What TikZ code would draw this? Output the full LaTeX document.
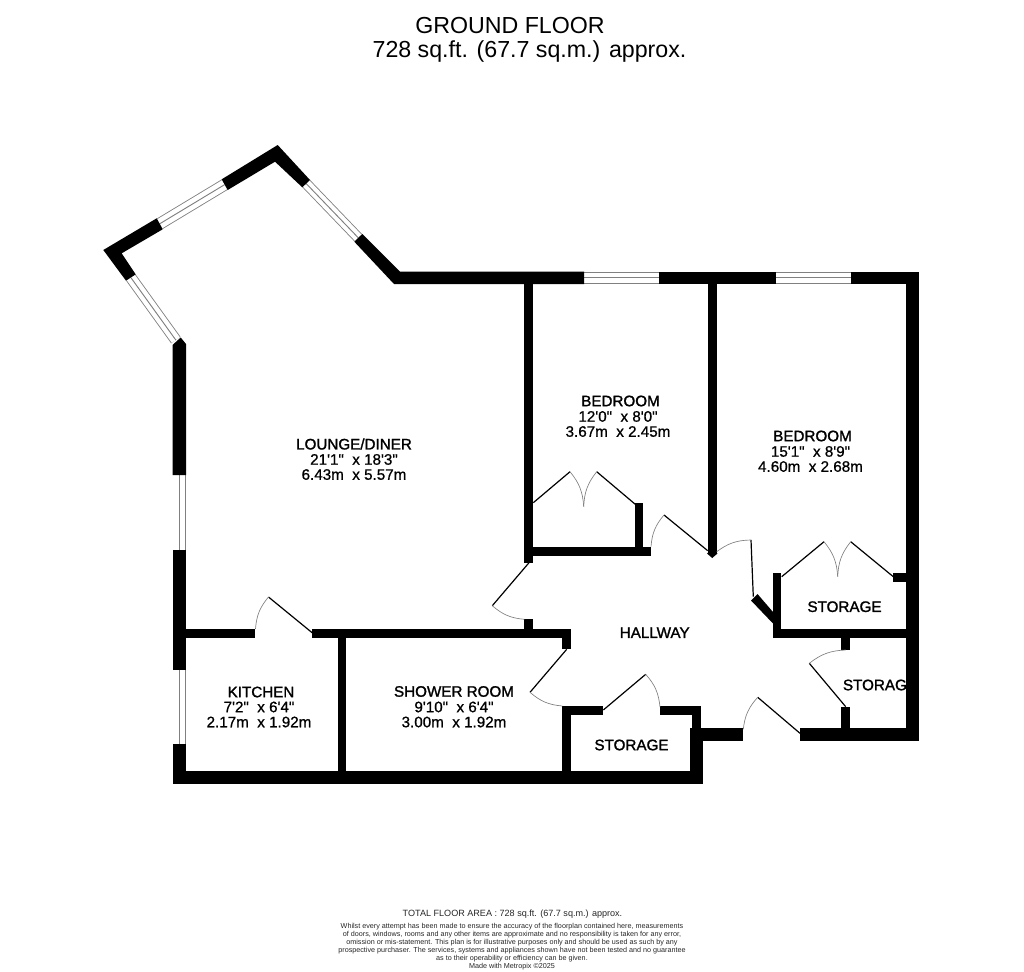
\documentclass[tikz,border=0pt]{standalone}
\usepackage{fontspec}
\setmainfont{Liberation Sans}
\newfontfamily\namefont[FakeBold=1.5]{Liberation Sans}
\newfontfamily\sizefont[FakeBold=0.8]{Liberation Sans}
\tikzset{
    wall/.style={fill=black, draw=none},
    leaf/.style={draw=black, line width=0.9pt},
    swing/.style={draw=black!50, line width=0.5pt},
    glass/.style={draw=black!50, line width=#1, postaction={draw=white, line width=#1-1.3pt}, postaction={draw=black!50, line width=0.7pt}},
    room/.style={inner sep=0pt, align=center, font=\sizefont\fontsize{11.4}{11.3}\selectfont},
    roomname/.style={inner sep=0pt, font=\namefont\fontsize{11.4}{11.3}\selectfont}
}
\begin{document}
\begin{tikzpicture}[x=0.75pt, y=-0.75pt]
    \useasboundingbox (0,0) rectangle (1024,971);
    % windows
    \draw[glass=9pt] (159.7,223.8) -- (224.7,184.6);
    \draw[glass=8pt] (306.2,183.6) -- (358.3,237.8);
    \draw[glass=8.6pt] (130.8,277.5) -- (175.8,340);
    \draw[glass=10pt] (179.2,475) -- (179.2,550);
    \draw[glass=10pt] (179.2,670) -- (179.2,744);
    \draw[glass=9.2pt] (584,277.8) -- (659,277.8);
    \draw[glass=9.2pt] (776,277.8) -- (851,277.8);
    % outer walls
    \fill[wall] (103.3,250) -- (156.7,218.3) -- (162.7,229.3) -- (121.7,253.3) -- (135.7,274.3) -- (126,280.7) -- cycle;
    \fill[wall] (221.7,179.3) -- (277.7,145) -- (310,180) -- (302.3,187.3) -- (275,161.7) -- (227.7,190) -- cycle;
    \fill[wall] (362.3,234) -- (400,271.7) -- (584,271.7) -- (584,284) -- (394,284) -- (354.3,241.7) -- cycle;
    \fill[wall] (172.5,345) -- (180.7,337.5) -- (186,344) -- (186,475) -- (172.5,475) -- cycle;
    \fill[wall] (172.5,550) rectangle (186,670);
    \fill[wall] (172.5,744) rectangle (186,784);
    \fill[wall] (172.5,771) rectangle (703.3,784);
    \fill[wall] (659,271.7) rectangle (776,284);
    \fill[wall] (851,271.7) rectangle (919,284);
    \fill[wall] (906,271.7) rectangle (919,741);
    \fill[wall] (800,728.3) rectangle (919,741);
    \fill[wall] (690,728.3) rectangle (743.3,741);
    \fill[wall] (690,728.3) rectangle (703.3,784);
    % inner walls
    \fill[wall] (186,629.3) rectangle (255,638.3);
    \fill[wall] (312.3,629.3) rectangle (570.7,638.3);
    \fill[wall] (337.7,638) rectangle (346,771);
    \fill[wall] (524.3,619.3) rectangle (533.3,629.3);
    \fill[wall] (561.7,638) rectangle (570.7,649.3);
    \fill[wall] (524.3,284) rectangle (533.3,562.7);
    \fill[wall] (533,547.3) rectangle (651,556);
    \fill[wall] (634.7,502.7) rectangle (642.7,547.3);
    \fill[wall] (707.7,284) rectangle (716.7,553);
    \fill[wall] (712.2,549) -- (717.5,553.5) -- (712.2,558) -- (707,553.5) -- cycle;
    \fill[wall] (772.7,572.7) rectangle (781.3,638.3);
    \fill[wall] (772.7,629.3) rectangle (906,638.3);
    \fill[wall] (757.5,594) -- (751,600.5) -- (773,623.5) -- (773,612) -- cycle;
    \fill[wall] (893.3,572.7) rectangle (906,582);
    \fill[wall] (841.3,638) rectangle (850.3,650);
    \fill[wall] (841.3,706.7) rectangle (850.3,728.3);
    \fill[wall] (562.3,706) rectangle (571,771);
    \fill[wall] (562.3,706) rectangle (603.3,715);
    \fill[wall] (660,706) rectangle (701,715);
    \fill[wall] (692.3,706) rectangle (701,728.3);
    % doors
    \draw[leaf] (312.5,633) -- (268.5,597);
    \draw[swing] (268.5,597) to[bend right=18] (255.5,629);
    \draw[leaf] (533.3,502.7) -- (570,471.7);
    \draw[swing] (583.7,506.7) to[bend right=18] (570,471.7);
    \draw[leaf] (637.3,506) -- (596.7,471.7);
    \draw[swing] (596.7,471.7) to[bend right=18] (583.7,506.7);
    \draw[leaf] (707.7,550.7) -- (664,515);
    \draw[swing] (664,515) to[bend right=18] (651,546.7);
    \draw[leaf] (753.3,596.7) -- (751,540);
    \draw[swing] (751,540) to[bend right=18] (716.7,551.7);
    \draw[leaf] (529,562.7) -- (492.3,605.7);
    \draw[swing] (492.3,605.7) to[bend right=18] (524.3,619.3);
    \draw[leaf] (566.7,649.3) -- (530,692.3);
    \draw[swing] (530,692.3) to[bend right=18] (562.3,706);
    \draw[leaf] (603.3,710) -- (645.7,674.3);
    \draw[swing] (660,707) to[bend right=18] (645.7,674.3);
    \draw[leaf] (800,733.3) -- (757.7,697.3);
    \draw[swing] (757.7,697.3) to[bend right=18] (743.3,729.3);
    \draw[leaf] (845.7,706.7) -- (809.3,663.3);
    \draw[swing] (845.7,650) to[bend right=18] (809.3,663.3);
    \draw[leaf] (781.7,576.7) -- (824,541.7);
    \draw[swing] (837.7,576.7) to[bend right=18] (824,541.7);
    \draw[leaf] (893.3,576.7) -- (850.7,541.7);
    \draw[swing] (850.7,541.7) to[bend right=18] (837.7,576.7);
    % titles
    \node[inner sep=0pt, font=\fontsize{17.4}{18}\selectfont] (title) at (510,26) {GROUND FLOOR};
    \node[inner sep=0pt, font=\fontsize{17.4}{18}\selectfont] (area) at (529.5,51) {728 sq.ft. (67.7 sq.m.) approx.};
    % rooms
    \node[roomname] (loungename) at (354,444) {LOUNGE/DINER};
    \node[room] (lounge) at (354,467) {21'1"~~x 18'3"\\6.43m~~x 5.57m};
    \node[roomname] (bedonename) at (620.5,401) {BEDROOM};
    \node[room] (bedone) at (618,424) {12'0"~~x 8'0"\\3.67m~~x 2.45m};
    \node[roomname] (bedtwoname) at (812.5,436) {BEDROOM};
    \node[room] (bedtwo) at (810.5,459) {15'1"~~x 8'9"\\4.60m~~x 2.68m};
    \node[roomname] (kitchenname) at (261,692) {KITCHEN};
    \node[room] (kitchen) at (259,714.5) {7'2"~~x 6'4"\\2.17m~~x 1.92m};
    \node[roomname] (showername) at (454,691.5) {SHOWER ROOM};
    \node[room] (shower) at (454,714.5) {9'10"~~x 6'4"\\3.00m~~x 1.92m};
    \node[roomname] (hallway) at (654.7,632.7) {HALLWAY};
    \node[roomname] (storeone) at (844.5,606.7) {STORAGE};
    \node[roomname] (storetwo) at (631.5,745) {STORAGE};
    \node[roomname, anchor=west] (storethree) at (842.7,685) {STORAG};
    % footer
    \node[inner sep=0pt, text=black!85, font=\fontsize{6.8}{7}\selectfont] (total) at (512.5,914) {TOTAL FLOOR AREA : 728 sq.ft. (67.7 sq.m.) approx.};
    \node[inner sep=0pt, text=black!85, align=center, anchor=north, font=\fontsize{5.4}{5.95}\selectfont] (notice) at (512,923) {Whilst every attempt has been made to ensure the accuracy of the floorplan contained here, measurements\\of doors, windows, rooms and any other items are approximate and no responsibility is taken for any error,\\omission or mis-statement. This plan is for illustrative purposes only and should be used as such by any\\prospective purchaser. The services, systems and appliances shown have not been tested and no guarantee\\as to their operability or efficiency can be given.\\Made with Metropix \textcopyright2025};
\end{tikzpicture}
\end{document}
